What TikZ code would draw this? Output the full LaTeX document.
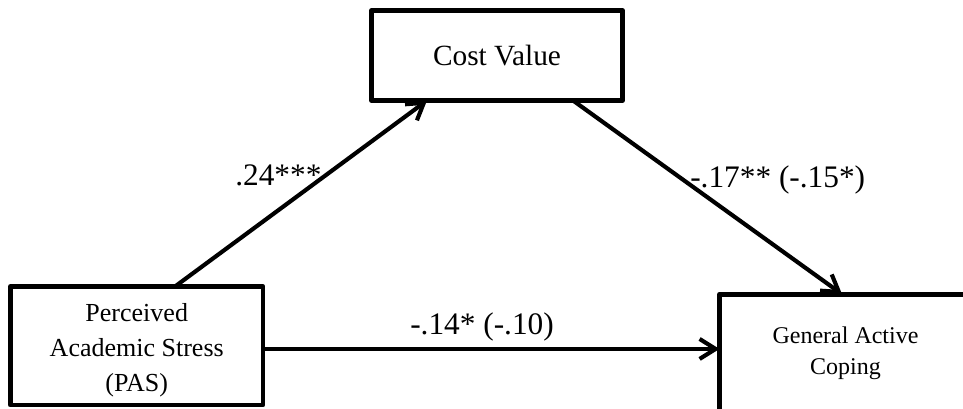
\documentclass[tikz,border=0pt]{standalone}
\usepackage{fontspec}
\setmainfont{Liberation Serif}
\usetikzlibrary{arrows.meta,calc}
\begin{document}
\begin{tikzpicture}[x=0.75pt,y=-0.75pt,
  box/.style={draw=black, line width=3.6pt, rectangle, outer sep=0pt, inner sep=0pt, line join=round},
  arr/.style={draw=black, line width=3.1pt, line join=round, -{Straight Barb[length=12pt,width=15pt]}},
  lbl/.style={inner sep=0pt, anchor=base west, font=\fontsize{23.5}{28}\selectfont}
]
\clip (0,0) rectangle (963,408);
\fill[white] (0,0) rectangle (963,408);
% boxes
\node[box, minimum width=189.4pt, minimum height=88.9pt] (pas) at (136.75,345.75) {};
\node[inner sep=0pt, align=center, font=\fontsize{19.5}{26}\selectfont] (pastext) at (136.75,350.3) {Perceived\\Academic Stress\\(PAS)};
\node[box, minimum width=188.25pt, minimum height=67.5pt, font=\fontsize{22}{26}\selectfont] (cost) at (497,55.5) {Cost Value};
\node[box, minimum width=189pt, minimum height=89pt, align=center, font=\fontsize{18}{23.25}\selectfont] (gac) at (845.5,353.5) {General Active\\Coping};
% connectors
\draw[arr] ([xshift=28.7pt]pas.north) -- ([xshift=-52.5pt]cost.south);
\draw[arr] ([xshift=57pt]cost.south) -- ([xshift=-2.6pt]gac.north);
\draw[arr] ([yshift=-2.4pt]pas.east) -- ([yshift=-2.4pt]pas.east -| gac.west);
% labels
\node[lbl] (l1) at (235,185) {.24***};
\node[lbl] (l2) at (690,187) {-.17** (-.15*)};
\node[lbl] (l3) at (410,334) {-.14* (-.10)};
\end{tikzpicture}
\end{document}
